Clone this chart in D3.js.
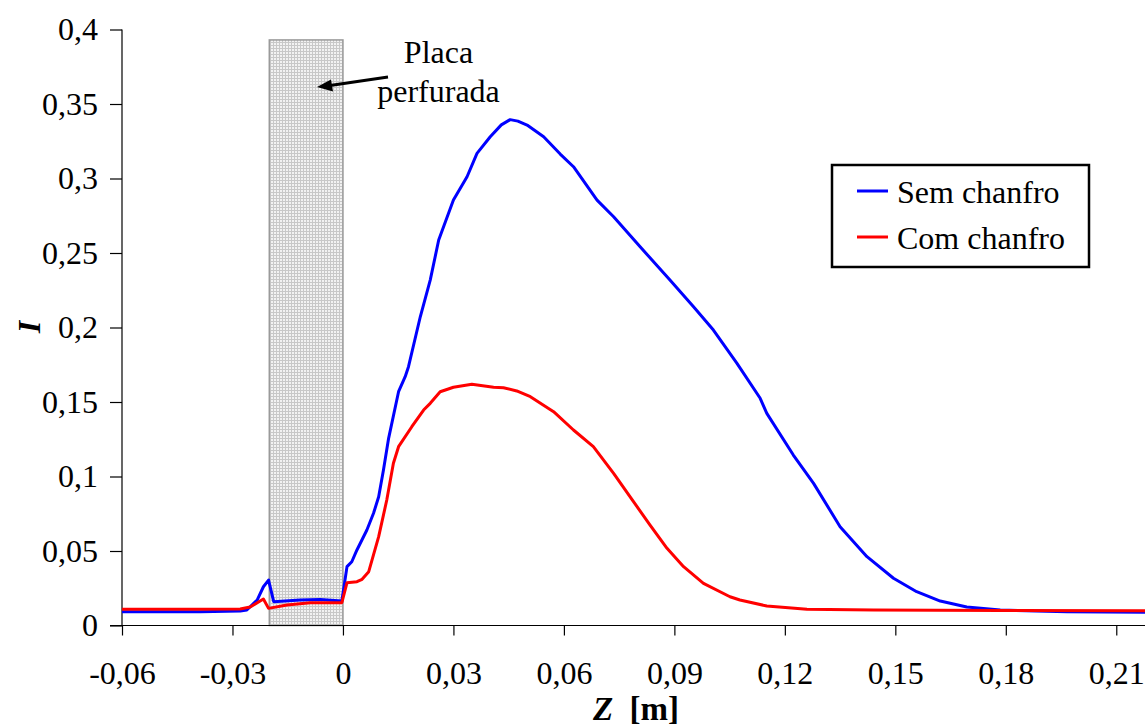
<!DOCTYPE html>
<html>
<head>
<meta charset="utf-8">
<script src="https://cdn.jsdelivr.net/npm/d3@7"></script>
<style>
  html, body { margin: 0; padding: 0; background: #fff; }
  svg { display: block; }
  text { font-family: "Liberation Serif", "Times New Roman", serif; fill: #000; }
</style>
</head>
<body>
<svg id="chart" width="1145" height="728"></svg>
<script>
// ---- data ----
const semChanfroZ = [-0.06,-0.0387,-0.0279,-0.0261,-0.0233,-0.0216,-0.0202,-0.0188,-0.0116,-0.0062,-0.0003,0.0011,0.0024,0.0038,0.0065,0.0083,0.0097,0.0110,0.0124,0.0151,0.0169,0.0178,0.0210,0.0237,0.0260,0.0300,0.0337,0.0364,0.0400,0.0430,0.0454,0.0475,0.0500,0.0545,0.0590,0.0626,0.0690,0.0735,0.0807,0.0888,0.0952,0.1006,0.1070,0.1133,0.1151,0.1223,0.1278,0.1350,0.1423,0.1495,0.1558,0.1622,0.1694,0.1785,0.1966,0.2178];
const semChanfroI = [0.0093,0.0093,0.0097,0.0104,0.0171,0.0260,0.0305,0.0160,0.0171,0.0174,0.0164,0.0395,0.0428,0.0507,0.0641,0.0753,0.0864,0.1044,0.1256,0.1569,0.1670,0.1737,0.2072,0.2318,0.2587,0.2855,0.3012,0.3169,0.3280,0.3360,0.3395,0.3385,0.3359,0.3280,0.3164,0.3079,0.2855,0.2743,0.2542,0.2318,0.2139,0.1983,0.1759,0.1525,0.1424,0.1144,0.0954,0.0663,0.0462,0.0317,0.0227,0.0164,0.0124,0.0104,0.0093,0.0089];
const comChanfroZ = [-0.06,-0.0387,-0.0279,-0.0252,-0.0216,-0.0202,-0.0152,-0.0089,-0.0003,0.0011,0.0038,0.0052,0.0070,0.0097,0.0119,0.0137,0.0151,0.0187,0.0219,0.0237,0.0264,0.0300,0.0350,0.0409,0.0436,0.0472,0.0509,0.0572,0.0626,0.0680,0.0735,0.0789,0.0834,0.0880,0.0925,0.0979,0.1051,0.1078,0.1151,0.1260,0.1441,0.1785,0.2178];
const comChanfroI = [0.0109,0.0109,0.0111,0.0124,0.0178,0.0115,0.0138,0.0153,0.0153,0.0287,0.0294,0.0310,0.0361,0.0596,0.0842,0.1089,0.1200,0.1334,0.1446,0.1491,0.1569,0.1599,0.1619,0.1599,0.1596,0.1574,0.1536,0.1435,0.1312,0.1200,0.1021,0.0831,0.0674,0.0518,0.0395,0.0283,0.0193,0.0171,0.0131,0.0109,0.0104,0.0101,0.0099];
const seriesNames = ["Sem chanfro", "Com chanfro"];
const xTickValues = [-0.06,-0.03,0,0.03,0.06,0.09,0.12,0.15,0.18,0.21];
const yTickValues = [0,0.05,0.1,0.15,0.2,0.25,0.3,0.35,0.4];
const plateRange = [-0.02, 0];   // perforated plate region (Z)
const plateTop = 0.393;
const annotationLines = ["Placa", "perfurada"];

// ---- setup ----
const svg = d3.select("#chart");
const FONT = 32;
const x = d3.scaleLinear().domain([-0.06, 0.2178]).range([122, 1145]);
const y = d3.scaleLinear().domain([0, 0.4]).range([625.5, 29.5]);
const loc = d3.formatLocale({decimal: ",", thousands: ".", grouping: [3], currency: ["", ""], minus: "-"});
const fmt = loc.format("~g");

// pattern for plate
const defs = svg.append("defs");
const pat = defs.append("pattern").attr("id", "grid").attr("patternUnits", "userSpaceOnUse")
  .attr("width", 3).attr("height", 3);
pat.append("rect").attr("width", 3).attr("height", 3).attr("fill", "#f2f2f2");
pat.append("rect").attr("x", 0).attr("y", 0).attr("width", 3).attr("height", 1).attr("fill", "#c8c8c8");
pat.append("rect").attr("x", 0).attr("y", 0).attr("width", 1).attr("height", 3).attr("fill", "#c8c8c8");

// plate rectangle
svg.append("rect")
  .attr("x", x(plateRange[0])).attr("y", y(plateTop))
  .attr("width", x(plateRange[1]) - x(plateRange[0]))
  .attr("height", y(0) - y(plateTop))
  .attr("fill", "url(#grid)").attr("stroke", "#9a9a9a").attr("stroke-width", 1.5);

// axes
const xAxis = svg.append("g").attr("transform", `translate(0,${y(0)})`)
  .call(d3.axisBottom(x).tickValues(xTickValues).tickFormat(fmt).tickSize(10).tickPadding(26));
xAxis.select(".domain").remove();
svg.append("line").attr("x1", 110).attr("x2", 1145).attr("y1", y(0)).attr("y2", y(0))
  .attr("stroke", "#000").attr("stroke-width", 1.2);
xAxis.selectAll(".tick line").attr("stroke", "#000").attr("stroke-width", 1.2);
xAxis.selectAll(".tick text").attr("font-size", FONT).attr("font-family", "Liberation Serif").attr("fill", "#000");

const yAxis = svg.append("g").attr("transform", `translate(${x(-0.06)},0)`)
  .call(d3.axisLeft(y).tickValues(yTickValues).tickFormat(fmt).tickSize(12).tickPadding(12));
yAxis.select(".domain").attr("stroke", "#000").attr("stroke-width", 1.2).attr("d", `M0,${y(0.4)}V${y(0)}`);
yAxis.selectAll(".tick line").attr("stroke", "#000").attr("stroke-width", 1.2);
yAxis.selectAll(".tick text").attr("font-size", FONT).attr("font-family", "Liberation Serif").attr("fill", "#000");

// lines
const line = d3.line().x(d => x(d[0])).y(d => y(d[1]));
const blue = d3.zip(semChanfroZ, semChanfroI);
const red = d3.zip(comChanfroZ, comChanfroI);
svg.append("path").datum(blue).attr("d", line).attr("fill", "none")
  .attr("stroke", "#0000ff").attr("stroke-width", 3).attr("stroke-linejoin", "round");
svg.append("path").datum(red).attr("d", line).attr("fill", "none")
  .attr("stroke", "#ff0000").attr("stroke-width", 3).attr("stroke-linejoin", "round");

// axis titles
const xt = svg.append("text").attr("x", 636).attr("y", 720).attr("text-anchor", "middle")
  .attr("font-size", 33).attr("font-weight", "bold");
xt.append("tspan").attr("font-style", "italic").text("Z");
xt.append("tspan").text("\u00a0 [m]");
svg.append("text").attr("transform", "translate(40,327) rotate(-90)").attr("text-anchor", "middle")
  .attr("font-size", FONT).attr("font-weight", "bold").attr("font-style", "italic").text("I");

// annotation
svg.append("text").attr("x", 438.5).attr("y", 63).attr("text-anchor", "middle").attr("font-size", FONT).text(annotationLines[0]);
svg.append("text").attr("x", 438.5).attr("y", 102).attr("text-anchor", "middle").attr("font-size", FONT).text(annotationLines[1]);
svg.append("line").attr("x1", 388).attr("y1", 77).attr("x2", 330).attr("y2", 85.5)
  .attr("stroke", "#000").attr("stroke-width", 3);
svg.append("path").attr("d", "M317,87 L331,79.5 L333,91.5 Z").attr("fill", "#000");

// legend
const lg = svg.append("g");
lg.append("rect").attr("x", 832).attr("y", 165).attr("width", 257).attr("height", 102)
  .attr("fill", "#fff").attr("stroke", "#000").attr("stroke-width", 2.5);
const colors = ["#0000ff", "#ff0000"];
seriesNames.forEach((n, i) => {
  const yy = 191 + i * 46;
  lg.append("line").attr("x1", 857).attr("x2", 888).attr("y1", yy).attr("y2", yy)
    .attr("stroke", colors[i]).attr("stroke-width", 3);
  lg.append("text").attr("x", 897).attr("y", yy + 12).attr("font-size", FONT).text(n);
});
</script>
</body>
</html>
